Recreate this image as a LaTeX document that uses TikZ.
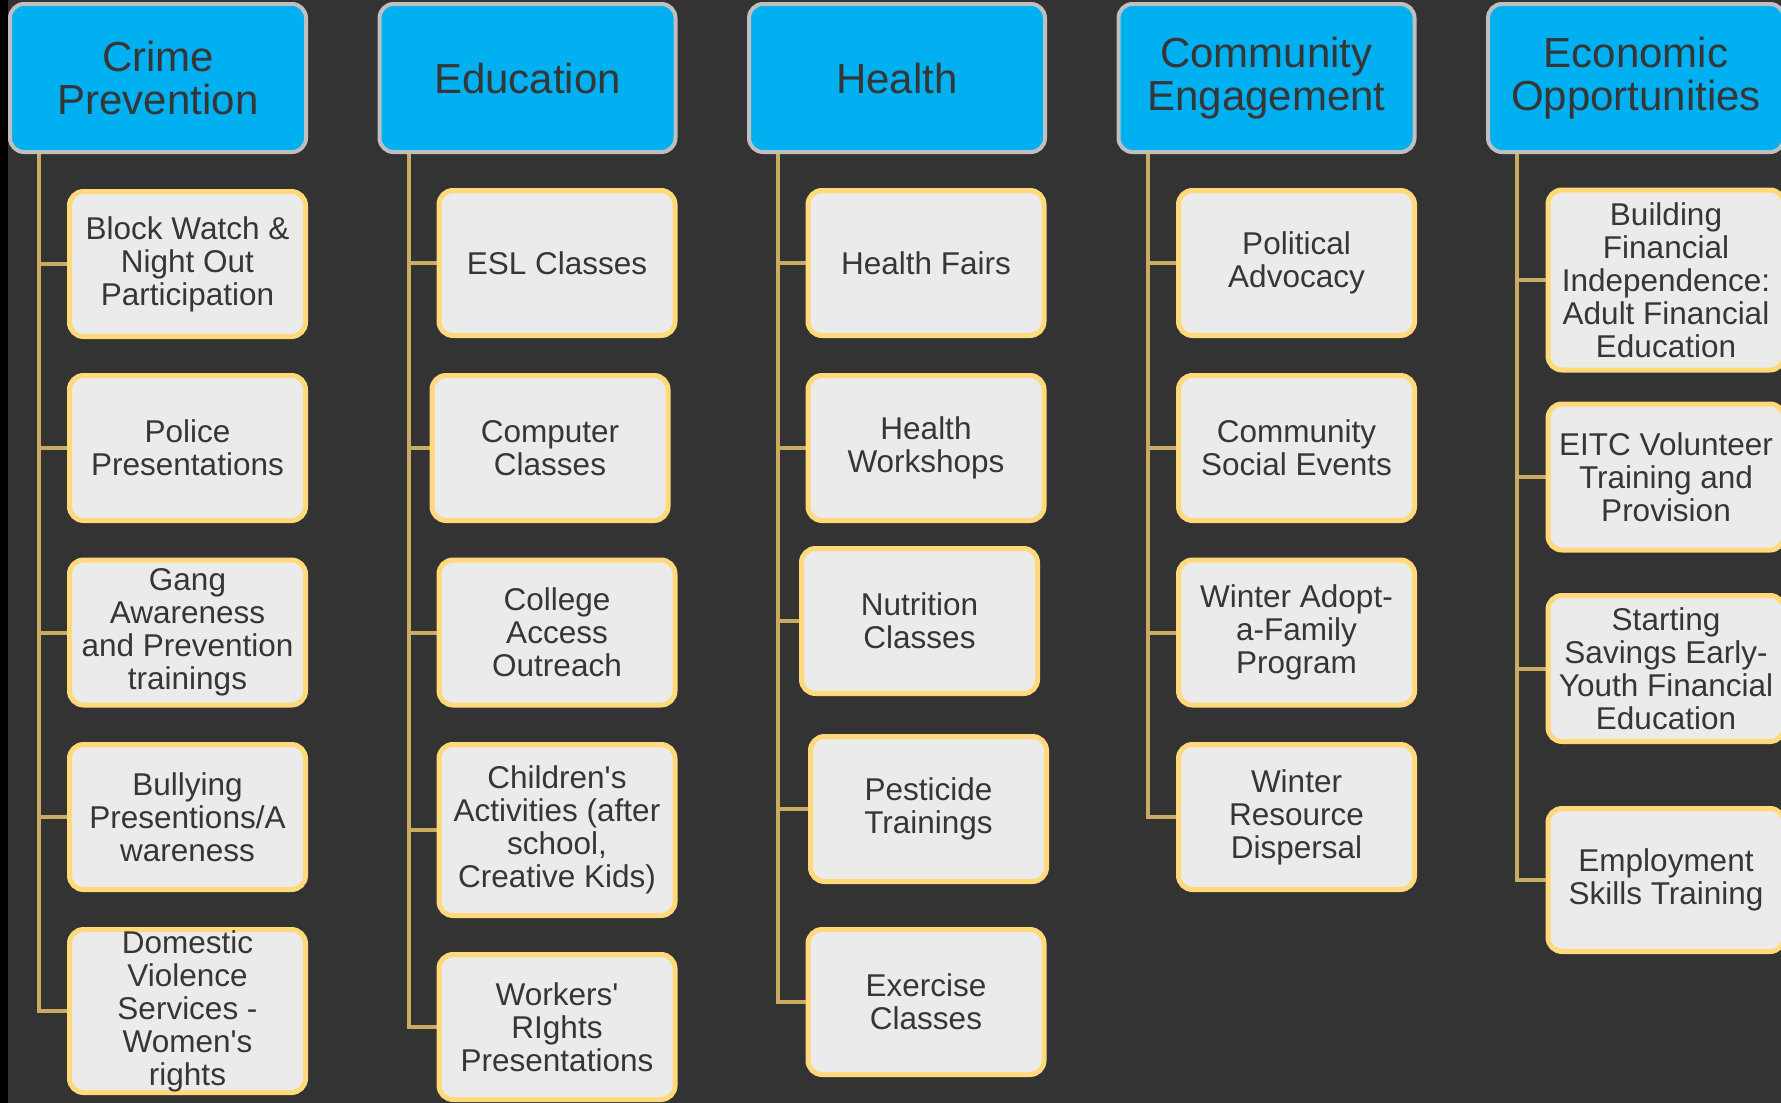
\documentclass[tikz,border=0pt]{standalone}
\usepackage{fontspec}
\setmainfont{Liberation Sans}
\usetikzlibrary{backgrounds}
\usepackage{xcolor}
\definecolor{bgdark}{HTML}{333333}
\definecolor{hdrblue}{HTML}{00B0F0}
\definecolor{hdrgray}{HTML}{BFBFBF}
\definecolor{itemfill}{HTML}{EBEBEB}
\definecolor{itemgold}{HTML}{FFD97A}
\definecolor{linktan}{HTML}{C9AB63}
\definecolor{textgray}{HTML}{363636}

\begin{document}
\begin{tikzpicture}[x=1pt,y=-1pt]
\tikzstyle{header} = [rectangle, draw=hdrgray, line width=4pt, fill=hdrblue,
minimum width=296pt, minimum height=148pt, rounded corners=14pt, inner sep=0pt,
align=center, text=textgray, font=\fontsize{42}{43}\selectfont]
\tikzstyle{item} = [rectangle, draw=itemgold, line width=5pt, fill=itemfill,
minimum width=236pt, minimum height=145pt, rounded corners=14pt, inner sep=0pt,
align=center, text=textgray, font=\fontsize{31.5}{33}\selectfont]
\tikzstyle{link} = [draw=linktan, line width=4pt]
\useasboundingbox (0,0) rectangle (1781,1103);

% column 1
\node [header] (crime) at (158,78) {Crime\\Prevention};
\node [item] (watch) at (187.5,264) {Block Watch \&\\Night Out\\Participation};
\node [item] (police) at (187.5,448) {Police\\Presentations};
\node [item] (gang) at (187.5,632.5) {Gang\\Awareness\\and Prevention\\trainings};
\node [item] (bully) at (187.5,817) {Bullying\\Presentions/A\\wareness};
\node [item, minimum height=163pt] (domestic) at (187.5,1011) {Domestic\\Violence\\Services -\\Women\textquotesingle s\\rights};
% column 2
\node [header] (educ) at (527.5,78) {Education};
\node [item] (esl) at (557,263) {ESL Classes};
\node [item] (computer) at (550,448) {Computer\\Classes};
\node [item] (college) at (557,632.5) {College\\Access\\Outreach};
\node [item, minimum height=171pt] (children) at (557,830) {Children\textquotesingle s\\Activities (after\\school,\\Creative Kids)};
\node [item] (workers) at (557,1027) {Workers\textquotesingle\\RIghts\\Presentations};
% column 3
\node [header] (health) at (897,78) {Health};
\node [item] (fairs) at (926,263) {Health Fairs};
\node [item] (workshops) at (926,448) {Health\\Workshops};
\node [item] (nutrition) at (919.5,621) {Nutrition\\Classes};
\node [item] (pesticide) at (928.5,809) {Pesticide\\Trainings};
\node [item] (exercise) at (926,1002) {Exercise\\Classes};
% column 4
\node [header] (comm) at (1266.5,78) {Community\\Engagement};
\node [item] (advocacy) at (1296.5,263) {Political\\Advocacy};
\node [item] (social) at (1296.5,448) {Community\\Social Events};
\node [item] (adopt) at (1296.5,632.5) {Winter Adopt-\\a-Family\\Program};
\node [item] (dispersal) at (1296.5,817) {Winter\\Resource\\Dispersal};
% column 5
\node [header] (econ) at (1636,78) {Economic\\Opportunities};
\node [item, minimum height=180pt] (independence) at (1666,280) {Building\\Financial\\Independence:\\Adult Financial\\Education};
\node [item, minimum height=146pt] (eitc) at (1666,477) {EITC Volunteer\\Training and\\Provision};
\node [item, minimum height=146pt] (savings) at (1666,668.5) {Starting\\Savings Early-\\Youth Financial\\Education};
\node [item, minimum height=143pt] (employment) at (1666,880) {Employment\\Skills Training};

\coordinate (crimeT) at ([xshift=31pt]crime.south west);
\coordinate (educT) at ([xshift=31pt]educ.south west);
\coordinate (healthT) at ([xshift=31pt]health.south west);
\coordinate (commT) at ([xshift=31pt]comm.south west);
\coordinate (econT) at ([xshift=31pt]econ.south west);

\begin{scope}[on background layer]
\fill [bgdark] (0,0) rectangle (1781,1103);
\fill [black] (0,0) rectangle (8,1103);
\draw [link] (crimeT) |- (watch.west);
\draw [link] (crimeT) |- (police.west);
\draw [link] (crimeT) |- (gang.west);
\draw [link] (crimeT) |- (bully.west);
\draw [link] (crimeT) |- (domestic.west);
\draw [link] (educT) |- (esl.west);
\draw [link] (educT) |- (computer.west);
\draw [link] (educT) |- (college.west);
\draw [link] (educT) |- (children.west);
\draw [link] (educT) |- (workers.west);
\draw [link] (healthT) |- (fairs.west);
\draw [link] (healthT) |- (workshops.west);
\draw [link] (healthT) |- (nutrition.west);
\draw [link] (healthT) |- (pesticide.west);
\draw [link] (healthT) |- (exercise.west);
\draw [link] (commT) |- (advocacy.west);
\draw [link] (commT) |- (social.west);
\draw [link] (commT) |- (adopt.west);
\draw [link] (commT) |- (dispersal.west);
\draw [link] (econT) |- (independence.west);
\draw [link] (econT) |- (eitc.west);
\draw [link] (econT) |- (savings.west);
\draw [link] (econT) |- (employment.west);
\end{scope}

\end{tikzpicture}
\end{document}
